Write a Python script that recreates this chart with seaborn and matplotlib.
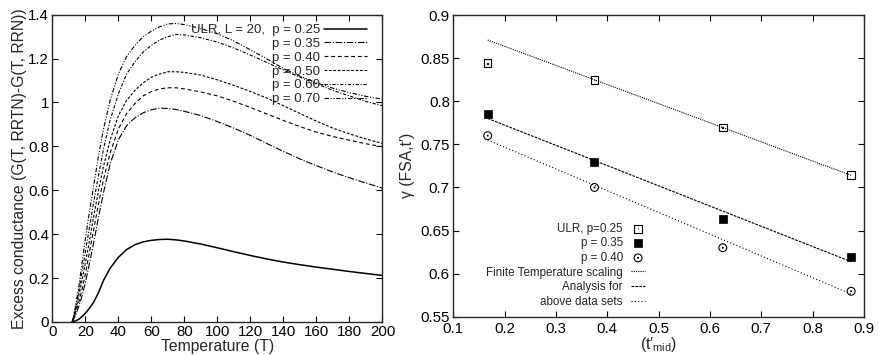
import numpy as np
import pandas as pd
import matplotlib
matplotlib.use("Agg")
import matplotlib.pyplot as plt
import seaborn as sns
from matplotlib.path import Path
from matplotlib.ticker import FuncFormatter, MultipleLocator

# ---------------- data: left panel ----------------
T = [12, 14, 16, 18, 20, 22, 25, 28, 31, 35, 40, 45, 50, 55, 60, 65, 70, 75, 80,
     90, 100, 110, 120, 130, 140, 150, 160, 170, 180, 190, 200]
g_p025 = [0, 0.005, 0.012, 0.025, 0.04, 0.058, 0.09, 0.135, 0.19, 0.245, 0.295, 0.33,
          0.352, 0.365, 0.372, 0.376, 0.377, 0.374, 0.369, 0.355, 0.338, 0.32, 0.303,
          0.287, 0.273, 0.261, 0.25, 0.24, 0.23, 0.221, 0.212]
g_p035 = [0, 0.03, 0.07, 0.12, 0.18, 0.25, 0.36, 0.48, 0.59, 0.72, 0.83, 0.895, 0.93,
          0.953, 0.967, 0.974, 0.973, 0.968, 0.96, 0.94, 0.913, 0.883, 0.85, 0.813,
          0.777, 0.743, 0.712, 0.683, 0.657, 0.633, 0.61]
g_p040 = [0, 0.04, 0.09, 0.15, 0.22, 0.30, 0.42, 0.54, 0.65, 0.77, 0.88, 0.95, 0.995,
          1.03, 1.05, 1.062, 1.067, 1.067, 1.062, 1.048, 1.03, 1.005, 0.977, 0.948,
          0.918, 0.89, 0.865, 0.845, 0.828, 0.812, 0.798]
g_p050 = [0, 0.05, 0.12, 0.19, 0.27, 0.35, 0.48, 0.60, 0.71, 0.83, 0.94, 1.01, 1.055,
          1.09, 1.115, 1.13, 1.14, 1.14, 1.137, 1.125, 1.103, 1.078, 1.05, 1.02, 0.985,
          0.95, 0.915, 0.883, 0.857, 0.834, 0.813]
g_p060 = [0, 0.06, 0.14, 0.23, 0.32, 0.41, 0.545, 0.67, 0.79, 0.92, 1.04, 1.13, 1.185,
          1.23, 1.26, 1.285, 1.30, 1.31, 1.308, 1.295, 1.275, 1.248, 1.216, 1.182,
          1.148, 1.115, 1.085, 1.055, 1.03, 1.005, 0.985]
g_p070 = [0, 0.07, 0.16, 0.27, 0.38, 0.48, 0.62, 0.76, 0.88, 1.01, 1.13, 1.21, 1.26,
          1.30, 1.325, 1.345, 1.358, 1.36, 1.355, 1.337, 1.313, 1.28, 1.24, 1.198,
          1.155, 1.12, 1.09, 1.065, 1.045, 1.028, 1.015]
left_labels = ["ULR, L = 20,  p = 0.25", "p = 0.35", "p = 0.40", "p = 0.50",
               "p = 0.60", "p = 0.70"]

# ---------------- data: right panel ----------------
t_mid = [0.167, 0.375, 0.625, 0.875]
gamma_p025 = [0.844, 0.8246, 0.7693, 0.7144]
gamma_p035 = [0.7848, 0.729, 0.663, 0.6196]
gamma_p040 = [0.760, 0.700, 0.630, 0.5795]
fit_x = [0.167, 0.875]
fit_p025 = [0.871, 0.714]
fit_p035 = [0.780, 0.6138]
fit_p040 = [0.755, 0.5763]
right_labels = ["ULR, p=0.25", "p = 0.35", "p = 0.40",
                "Finite Temperature scaling", "Analysis for", "above data sets"]

# ---------------- style ----------------
sns.set_style("ticks")
plt.rcParams["font.family"] = ["Liberation Sans", "DejaVu Sans"]
plt.rcParams["mathtext.default"] = "regular"
plt.rcParams["axes.linewidth"] = 1.0
plt.rcParams["xtick.direction"] = "in"
plt.rcParams["ytick.direction"] = "in"
plt.rcParams["xtick.top"] = True
plt.rcParams["ytick.right"] = True
plt.rcParams["xtick.major.size"] = 4
plt.rcParams["ytick.major.size"] = 4
plt.rcParams["xtick.major.pad"] = 2.5
plt.rcParams["ytick.major.pad"] = 2.5

fig = plt.figure(figsize=(8.79, 3.55), dpi=100)
axL = fig.add_axes([0.0596, 0.093, 0.3755, 0.8656])
axR = fig.add_axes([0.5157, 0.1079, 0.4672, 0.8498])

fmt = FuncFormatter(lambda v, p: "%g" % round(v, 6))

# ---------------- left panel ----------------
series = [g_p025, g_p035, g_p040, g_p050, g_p060, g_p070]
styles = ["-", (0, (6, 1.5, 1, 1.5)), (0, (3.5, 2.5)), (0, (2.5, 1.5)),
          (0, (3, 1.5, 1, 1.5)), (0, (4, 1.5, 1, 1.5, 1, 1.5))]
widths = [1.1, 0.8, 0.8, 0.8, 0.8, 0.8]
for vals, ls, lw, lab in zip(series, styles, widths, left_labels):
    sns.lineplot(x=T, y=vals, ax=axL, color="black", linestyle=ls, linewidth=lw,
                 label=lab, sort=False, estimator=None)

axL.set_xlim(0, 200)
axL.set_ylim(0, 1.4)
axL.xaxis.set_major_locator(MultipleLocator(20))
axL.yaxis.set_major_locator(MultipleLocator(0.2))
axL.xaxis.set_major_formatter(fmt)
axL.yaxis.set_major_formatter(fmt)
axL.tick_params(labelsize=10.8, colors="black", width=0.8)
axL.set_xlabel("Temperature (T)", fontsize=11.3, labelpad=0)
axL.set_ylabel("Excess conductance (G(T, RRTN)-G(T, RRN))", fontsize=11.3, labelpad=1)
legL = axL.legend(loc="upper right", bbox_to_anchor=(0.952, 0.97), frameon=False,
                  markerfirst=False, fontsize=9.5, handlelength=3.2,
                  handletextpad=0.35, labelspacing=0.12, borderpad=0, borderaxespad=0)

# ---------------- right panel ----------------
def marker_with_dot(outline):
    d = 0.09
    dot = Path([(-d, -d), (d, -d), (d, d), (-d, d), (-d, -d)],
               [Path.MOVETO, Path.LINETO, Path.LINETO, Path.LINETO, Path.CLOSEPOLY])
    return Path.make_compound_path(outline, dot)

sq_outline = Path([(-1, -1), (1, -1), (1, 1), (-1, 1), (-1, -1)],
                  [Path.MOVETO, Path.LINETO, Path.LINETO, Path.LINETO, Path.CLOSEPOLY])
open_sq = marker_with_dot(sq_outline)
open_circ = marker_with_dot(Path.unit_circle())

h1 = axR.scatter(t_mid, gamma_p025, marker=open_sq, s=30, facecolors="none",
                 edgecolors="black", linewidths=0.8)
h2 = axR.scatter(t_mid, gamma_p035, marker="s", s=30, facecolors="black",
                 edgecolors="black", linewidths=0.5)
h3 = axR.scatter(t_mid, gamma_p040, marker=open_circ, s=32, facecolors="none",
                 edgecolors="black", linewidths=0.8)
sns.lineplot(x=fit_x, y=fit_p025, ax=axR, color="black", linestyle=(0, (1, 1)),
             linewidth=0.8, sort=False, estimator=None)
sns.lineplot(x=fit_x, y=fit_p035, ax=axR, color="black", linestyle=(0, (2.5, 1)),
             linewidth=0.8, sort=False, estimator=None)
sns.lineplot(x=fit_x, y=fit_p040, ax=axR, color="black", linestyle=(0, (1, 2)),
             linewidth=0.8, sort=False, estimator=None)
lines = axR.get_lines()

axR.set_xlim(0.1, 0.9)
axR.set_ylim(0.55, 0.9)
axR.xaxis.set_major_locator(MultipleLocator(0.1))
axR.yaxis.set_major_locator(MultipleLocator(0.05))
axR.xaxis.set_major_formatter(fmt)
axR.yaxis.set_major_formatter(fmt)
axR.tick_params(labelsize=10.8, colors="black", width=0.8)
axR.tick_params(axis="x", pad=4)
axR.set_xlabel("(t\u2032$_{\\mathregular{mid}}$)", fontsize=11.3, labelpad=-1)
axR.set_ylabel("\u03b3 (FSA,t\u2032)", fontsize=11.3, labelpad=4)
axR.legend(handles=[h1, h2, h3, lines[0], lines[1], lines[2]], labels=right_labels,
           loc="lower left", bbox_to_anchor=(0.08, 0.03), frameon=False,
           markerfirst=False, fontsize=8.4, handlelength=1.2, handletextpad=0.7,
           labelspacing=0.22, borderpad=0, borderaxespad=0, scatterpoints=1)

fig.savefig("out.png", dpi=100)
